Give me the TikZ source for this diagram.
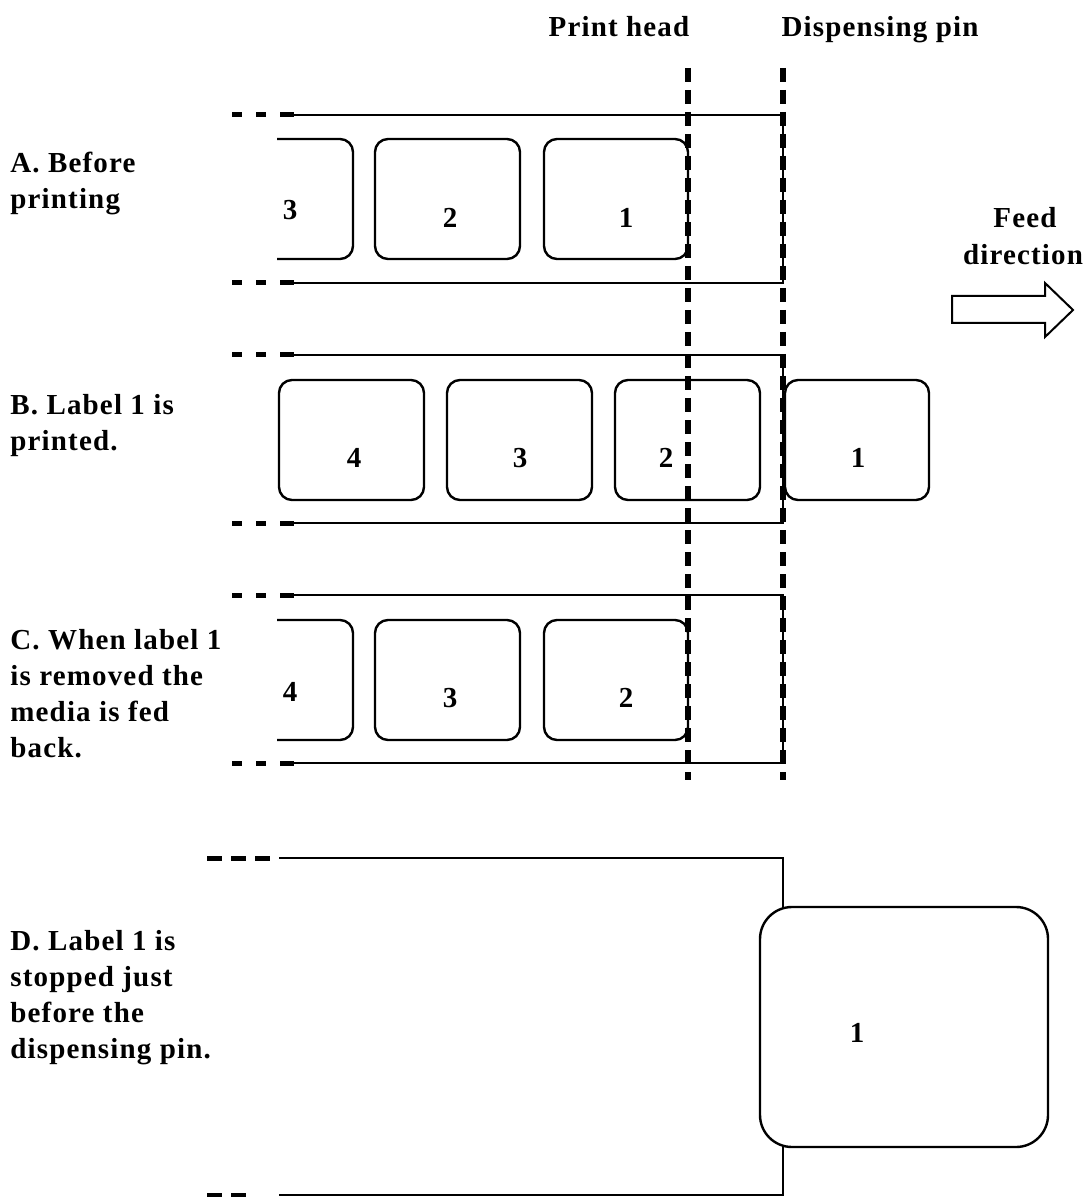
\documentclass[tikz,border=0pt]{standalone}
\usepackage{fontspec}
\setmainfont{Liberation Serif}
\newfontfamily\lblfont{Liberation Serif}[LetterSpace=4]
\begin{document}
\begin{tikzpicture}[x=0.5pt,y=-0.5pt,
  media/.style={line width=1pt},
  lbl/.style={line width=1.2pt, rounded corners=6.5pt},
  biglbl/.style={line width=1.2pt, rounded corners=16pt},
  pinline/.style={line width=2.8pt, dash pattern=on 7pt off 4pt},
  lead/.style={line width=2.5pt, dash pattern=on 5pt off 7pt on 5pt off 7pt on 7pt off 50pt},
  leadD/.style={line width=2.5pt, dash pattern=on 7.5pt off 4.5pt},
  txt/.style={font=\lblfont\fontsize{14.5pt}{18pt}\selectfont\bfseries, inner sep=0pt},
  side/.style={txt, anchor=base west},
  head/.style={txt, anchor=base}]
\useasboundingbox[fill=white] (0,0) rectangle (1089,1197);

% headers
\node[head] (ph) at (619,37) {Print head};
\node[head] (dp) at (880,37) {Dispensing pin};
\node[head] (fd1) at (1025,228) {Feed};
\node[head] (fd2) at (1023,265) {direction};
\draw[line width=1pt] (952,296) -- (1045,296) -- (1045,283) -- (1073,310) -- (1045,337) -- (1045,323) -- (952,323) -- cycle;

% side texts
\node[side] (ta1) at (10,173) {A. Before};
\node[side] (ta2) at (10,209) {printing};
\node[side] (tb1) at (10,415) {B. Label 1 is};
\node[side] (tb2) at (10,451) {printed.};
\node[side] (tc1) at (10,649) {C. When label 1};
\node[side] (tc2) at (10,685) {is removed the};
\node[side] (tc3) at (10,721) {media is fed};
\node[side] (tc4) at (10,757) {back.};
\node[side] (td1) at (10,950) {D. Label 1 is};
\node[side] (td2) at (10,986) {stopped just};
\node[side] (td3) at (10,1022) {before the};
\node[side] (td4) at (10,1058) {dispensing pin.};

% ---------- Panel A ----------
\draw[lead] (232,115) -- (296,115);
\draw[lead] (232,283) -- (296,283);
\draw[media] (290,115) -- (783,115) -- (783,283) -- (290,283);
\draw[lbl] (277,139) -- (353,139) -- (353,259) -- (277,259);
\draw[lbl] (375,139) rectangle (520,259);
\draw[lbl] (544,139) rectangle (688,259);
\node[txt] (a3) at (290,210) {3};
\node[txt] (a2) at (450,218) {2};
\node[txt] (a1) at (626,218) {1};

% ---------- Panel B ----------
\draw[lead] (232,355) -- (296,355);
\draw[lead] (232,523) -- (296,523);
\draw[media] (290,355) -- (783,355) -- (783,523) -- (290,523);
\draw[lbl] (279,380) rectangle (424,500);
\draw[lbl] (447,380) rectangle (592,500);
\draw[lbl] (615,380) rectangle (760,500);
\draw[lbl] (785,380) rectangle (929,500);
\node[txt] (b4) at (354,458) {4};
\node[txt] (b3) at (520,458) {3};
\node[txt] (b2) at (666,458) {2};
\node[txt] (b1) at (858,458) {1};

% ---------- Panel C ----------
\draw[lead] (232,595) -- (296,595);
\draw[lead] (232,763) -- (296,763);
\draw[media] (290,595) -- (783,595) -- (783,763) -- (290,763);
\draw[lbl] (277,620) -- (353,620) -- (353,740) -- (277,740);
\draw[lbl] (375,620) rectangle (520,740);
\draw[lbl] (544,620) rectangle (688,740);
\node[txt] (c4) at (290,692) {4};
\node[txt] (c3) at (450,698) {3};
\node[txt] (c2) at (626,698) {2};

% ---------- Panel D ----------
\draw[leadD] (207,858) -- (270,858);
\draw[leadD] (207,1195) -- (246,1195);
\draw[media] (279,858) -- (783,858) -- (783,908);
\draw[media] (783,1147) -- (783,1195) -- (279,1195);
\draw[biglbl] (760,907) rectangle (1048,1147);
\node[txt] (d1) at (857,1033) {1};

% ---------- print head and dispensing pin ----------
\draw[pinline] (688,68) -- (688,780);
\draw[pinline] (783,68) -- (783,780);
\end{tikzpicture}
\end{document}
